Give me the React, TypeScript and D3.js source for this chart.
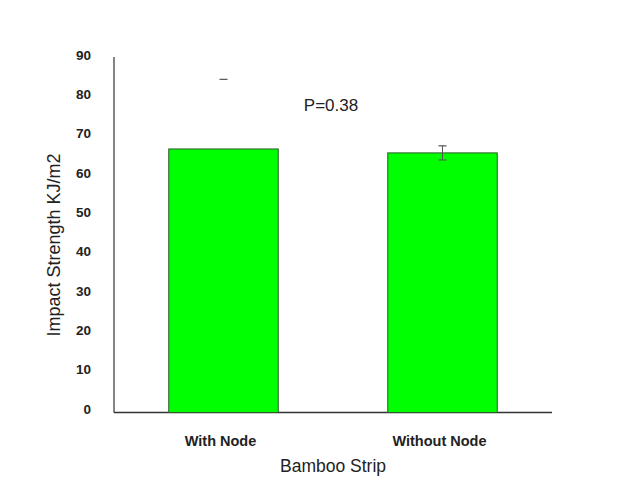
import React from "react";
import * as d3 from "d3";

const categories = ["With Node", "Without Node"];
const values = [67.0, 66.0];
const errUpper = [84.7, 67.8];
const errLower = [null, 64.2];
const showWhisker = [false, true];
const yTicks = [0, 10, 20, 30, 40, 50, 60, 70, 80, 90];
const pLabel = "P=0.38";
const xTitle = "Bamboo Strip";
const yTitle = "Impact Strength KJ/m2";

const W = 640;
const H = 495;
const margin = { left: 114, right: 88, top: 58.5, bottom: 82.5 };

export default function App() {
  const x = d3
    .scaleBand<string>()
    .domain(categories)
    .range([margin.left, W - margin.right])
    .paddingInner(0.5)
    .paddingOuter(0.25);
  const y = d3.scaleLinear().domain([0, 90]).range([H - margin.bottom, margin.top]);
  const font = "Liberation Sans, Arial, sans-serif";
  const bw = x.bandwidth();
  return (
    <svg
      width={W}
      height={H}
      style={{ position: "absolute", left: 0, top: 0, background: "#fff" }}
      fontFamily={font}
    >
      <line x1={margin.left} x2={margin.left} y1={57} y2={y(0)} stroke="#333" strokeWidth={1.2} />
      <line x1={margin.left} x2={W - margin.right} y1={y(0)} y2={y(0)} stroke="#333" strokeWidth={1.5} />
      {yTicks.map((t) => (
        <text key={t} x={91} y={y(t) - 3.5} textAnchor="end" dominantBaseline="central" fontSize={13.5} fontWeight="bold" fill="#222">
          {t}
        </text>
      ))}
      {categories.map((c, i) => {
        const cx = (x(c) as number) + bw / 2;
        return (
          <g key={c}>
            <rect x={x(c)} y={y(values[i])} width={bw} height={y(0) - y(values[i])} fill="#00ff00" stroke="#2a5a2a" strokeWidth={1} />
            {showWhisker[i] && errLower[i] != null && (
              <line x1={cx} x2={cx} y1={y(errUpper[i])} y2={y(errLower[i] as number)} stroke="#555" strokeWidth={1} />
            )}
            <line x1={cx - 4} x2={cx + 4} y1={y(errUpper[i])} y2={y(errUpper[i])} stroke="#555" strokeWidth={1.2} />
            {errLower[i] != null && (
              <line x1={cx - 4} x2={cx + 4} y1={y(errLower[i] as number)} y2={y(errLower[i] as number)} stroke="#555" strokeWidth={1} />
            )}
            <text x={cx - 3} y={441} textAnchor="middle" dominantBaseline="central" fontSize={14.5} fontWeight="bold" fill="#222">
              {c}
            </text>
          </g>
        );
      })}
      <text x={331} y={105} textAnchor="middle" dominantBaseline="central" fontSize={17} fill="#222">
        {pLabel}
      </text>
      <text x={333} y={466} textAnchor="middle" dominantBaseline="central" fontSize={17.5} fill="#222">
        {xTitle}
      </text>
      <text
        transform={`translate(54, 245) rotate(-90)`}
        textAnchor="middle"
        dominantBaseline="central"
        fontSize={18}
        fill="#222"
      >
        {yTitle}
      </text>
    </svg>
  );
}
